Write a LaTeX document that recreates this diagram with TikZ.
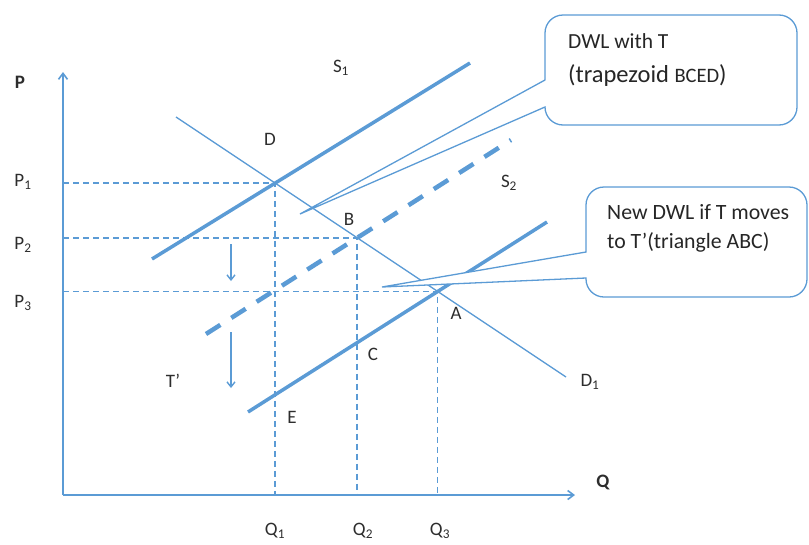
\documentclass[tikz,border=0pt]{standalone}
\usepackage{fontspec}
\setmainfont{Carlito}
\usepackage{tikz}
\usetikzlibrary{arrows.meta, intersections, calc}
\definecolor{lineblue}{RGB}{91,155,213}
\definecolor{labelgray}{RGB}{45,45,45}

\begin{document}
\begin{tikzpicture}[
    x=1pt, y=-1pt,
    font=\fontsize{19}{23}\selectfont,
    axis/.style={lineblue, line width=1.6pt, -{Straight Barb[length=6pt, width=9pt]}},
    supply/.style={lineblue, line width=3.5pt},
    shifted/.style={lineblue, line width=4.5pt, dash pattern=on 17pt off 13pt},
    demand/.style={lineblue, line width=1.3pt},
    guide/.style={lineblue, line width=1.5pt, dash pattern=on 6pt off 4pt},
    drop/.style={lineblue, line width=1.4pt, -{Straight Barb[length=5pt, width=8pt]}},
    callout/.style={draw=lineblue, fill=white, line width=1.3pt},
    lbl/.style={text=labelgray, inner sep=0pt},
    note/.style={text=black!85, inner sep=0pt, anchor=base west, font=\fontsize{21.5}{26}\selectfont}
]
\useasboundingbox (0,0) rectangle (809,544);

\coordinate (O) at (63,495);
\coordinate (ytop) at (63,72);
\coordinate (xend) at (575,495);
\coordinate (d1a) at (176,117);
\coordinate (d1b) at (566,377);
\coordinate (s1a) at (152,259);
\coordinate (s1b) at (470,63);
\coordinate (s2a) at (206,334);
\coordinate (s2b) at (511,140);
\coordinate (s3a) at (248,412);
\coordinate (s3b) at (547,222);

\path[name path=d1] (d1a) -- (d1b);
\path[name path=s1] (s1a) -- (s1b);
\path[name path=s2] (s2a) -- (s2b);
\path[name path=s3] (s3a) -- (s3b);
\path[name intersections={of=d1 and s1, by=ptD}];
\path[name intersections={of=d1 and s2, by=ptB}];
\path[name intersections={of=d1 and s3, by=ptA}];

\draw[axis] (O) -- (ytop);
\draw[axis] (O) -- (xend);

\draw[guide] (O |- ptD) -- (ptD) -- (ptD |- O);
\draw[guide] (O |- ptB) -- (ptB) -- (ptB |- O);
\draw[guide] (O |- ptA) -- (ptA) -- (ptA |- O);

\draw[demand] (d1a) -- (d1b);
\draw[supply] (s1a) -- (s1b);
\draw[shifted] (s2a) -- (s2b);
\draw[supply] (s3a) -- (s3b);

\coordinate (tax1a) at (231,244);
\coordinate (tax1b) at (231,281);
\coordinate (tax2a) at (231,332);
\coordinate (tax2b) at (231,388);
\draw[drop] (tax1a) -- (tax1b);
\draw[drop] (tax2a) -- (tax2b);

% callouts
\coordinate (tipT) at (300,214);
\coordinate (tipTT) at (382,287);
\draw[callout] (545,80) -- (tipT) -- (545,107) [rounded corners=18pt] -- (545,125) -- (797,125) -- (797,15) -- (545,15) [sharp corners] -- cycle;
\draw[callout] (586,252) -- (tipTT) -- (586,278) [rounded corners=18pt] -- (586,297) -- (807,297) -- (807,187) -- (586,187) [sharp corners] -- cycle;

\node[note] (dwlT1) at (568,48) {DWL with T};
\node[note, font=\fontsize{24.5}{28}\selectfont] (dwlT2) at (568,82) {(trapezoid {\fontsize{20.5}{24}\selectfont BCED})};
\node[note, font=\fontsize{21.8}{26}\selectfont] (dwlTT1) at (607,219) {New DWL if T moves};
\node[note, font=\fontsize{21.8}{26}\selectfont] (dwlTT2) at (607,248) {to T’(triangle ABC)};

\node[lbl, font=\bfseries\fontsize{19}{23}\selectfont] (plab) at (20,82) {P};
\node[lbl, font=\bfseries\fontsize{19}{23}\selectfont] (qlab) at (603,482) {Q};
\node[lbl] (p1) at (23,182) {P\textsubscript{1}};
\node[lbl] (p2) at (23,245) {P\textsubscript{2}};
\node[lbl] (p3) at (23,303) {P\textsubscript{3}};
\node[lbl] (q1) at (275,531) {Q\textsubscript{1}};
\node[lbl] (q2) at (363,531) {Q\textsubscript{2}};
\node[lbl] (q3) at (440,531) {Q\textsubscript{3}};
\node[lbl] (s1lab) at (341,68) {S\textsubscript{1}};
\node[lbl] (s2lab) at (509,183) {S\textsubscript{2}};
\node[lbl] (d1lab) at (590,382) {D\textsubscript{1}};
\node[lbl] (dlab) at (270,139) {D};
\node[lbl] (blab) at (349,219) {B};
\node[lbl] (alab) at (456,313) {A};
\node[lbl] (clab) at (373,354) {C};
\node[lbl] (elab) at (292,417) {E};
\node[lbl] (tlab) at (173,381) {T’};

\end{tikzpicture}
\end{document}
